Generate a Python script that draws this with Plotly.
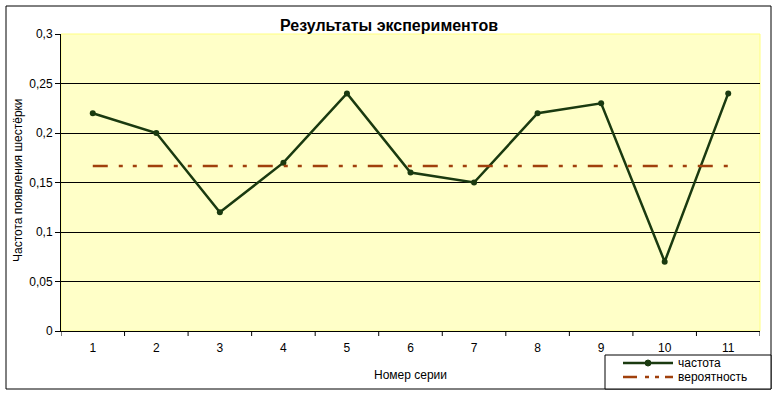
import plotly.graph_objects as go

series = [1, 2, 3, 4, 5, 6, 7, 8, 9, 10, 11]
frequency = [0.22, 0.20, 0.12, 0.17, 0.24, 0.16, 0.15, 0.22, 0.23, 0.07, 0.24]
probability = [1/6] * 11
y_ticks = [0, 0.05, 0.1, 0.15, 0.2, 0.25, 0.3]
y_ticklabels = ["0", "0,05", "0,1", "0,15", "0,2", "0,25", "0,3"]
legend_names = ["частота", "вероятность"]

W, H = 778, 395
L, R, T, B = 61, 760, 34, 331
pw, ph = R - L, B - T

def px(x):
    return (x - L) / pw

def py(y):
    return (B - y) / ph

font = "Liberation Sans, Arial, sans-serif"
GREEN = "#1a3a10"
BROWN = "#a0400c"
DASH = "15px,11px,4px,10px,4px,11px"

fig = go.Figure()
fig.add_trace(go.Scatter(
    x=series, y=frequency, name=legend_names[0], mode="lines+markers",
    line=dict(color=GREEN, width=2.5),
    marker=dict(color=GREEN, size=6), showlegend=False,
))
fig.add_trace(go.Scatter(
    x=series, y=probability, name=legend_names[1], mode="lines",
    line=dict(color=BROWN, width=2.5, dash=DASH), showlegend=False,
))

shapes = [
    # outer chart border
    dict(type="rect", xref="paper", yref="paper",
         x0=px(6), x1=px(771), y0=py(389), y1=py(6),
         line=dict(color="black", width=1), layer="below"),
    # plot area fill
    dict(type="rect", xref="paper", yref="paper",
         x0=0, x1=1, y0=0, y1=1, fillcolor="#ffffc8",
         line=dict(color="#ffff80", width=1), layer="below"),
    # legend box
    dict(type="rect", xref="paper", yref="paper",
         x0=px(605), x1=px(771), y0=py(389), y1=py(355),
         fillcolor="white", line=dict(color="black", width=1), layer="above"),
    # legend sample lines
    dict(type="line", xref="paper", yref="paper",
         x0=px(623), x1=px(673), y0=py(363), y1=py(363),
         line=dict(color=GREEN, width=2.5), layer="above"),
    dict(type="circle", xref="paper", yref="paper",
         x0=px(645), x1=px(651), y0=py(366), y1=py(360),
         fillcolor=GREEN, line=dict(color=GREEN, width=1), layer="above"),
    dict(type="line", xref="paper", yref="paper",
         x0=px(623), x1=px(673), y0=py(377), y1=py(377),
         line=dict(color=BROWN, width=2.5, dash="14px,8px,4px,6px,4px,6px"), layer="above"),
]

annotations = [
    dict(text=legend_names[0], xref="paper", yref="paper", x=px(676), y=py(363),
         xanchor="left", yanchor="middle", showarrow=False,
         font=dict(size=12, family=font)),
    dict(text=legend_names[1], xref="paper", yref="paper", x=px(676), y=py(377),
         xanchor="left", yanchor="middle", showarrow=False,
         font=dict(size=12, family=font)),
    dict(text="Номер серии", xref="paper", yref="paper", x=px(410), y=py(375),
         xanchor="center", yanchor="middle", showarrow=False,
         font=dict(size=12, family=font)),
    dict(text="Частота появления шестёрки", xref="paper", yref="paper",
         x=px(18), y=py(180), xanchor="center", yanchor="middle",
         textangle=-90, showarrow=False, font=dict(size=12, family=font)),
]

fig.update_layout(
    width=W, height=H,
    margin=dict(l=L, r=W - R, t=T, b=H - B, autoexpand=False),
    paper_bgcolor="white", plot_bgcolor="rgba(0,0,0,0)",
    font=dict(family=font, size=12, color="black"),
    title=dict(text="<b>Результаты экспериментов</b>", x=389 / W, xanchor="center",
               y=1 - 25 / H, yanchor="middle", font=dict(size=16, family=font)),
    shapes=shapes,
    annotations=annotations,
    showlegend=False,
    xaxis=dict(range=[0.5, 11.5], tickmode="array", tickvals=series,
               ticktext=[str(s) for s in series],
               showgrid=False, zeroline=False, showline=True,
               linecolor="black", linewidth=1,
               ticks="", tickfont=dict(size=12), ticklabelstandoff=6),
    yaxis=dict(range=[0, 0.3], tickmode="array", tickvals=y_ticks,
               ticktext=y_ticklabels, showgrid=True, gridcolor="black",
               gridwidth=1, zeroline=False, showline=True, linecolor="black",
               linewidth=1, ticks="outside", ticklen=5, tickcolor="black",
               tickfont=dict(size=12)),
)

# x-axis tick marks between categories
for b in [1.5 + i for i in range(10)] + [0.5, 11.5]:
    fig.add_shape(type="line", xref="x", yref="paper", x0=b, x1=b,
                  y0=0, y1=-5 / ph, line=dict(color="black", width=1))

fig.write_html("out.html")
